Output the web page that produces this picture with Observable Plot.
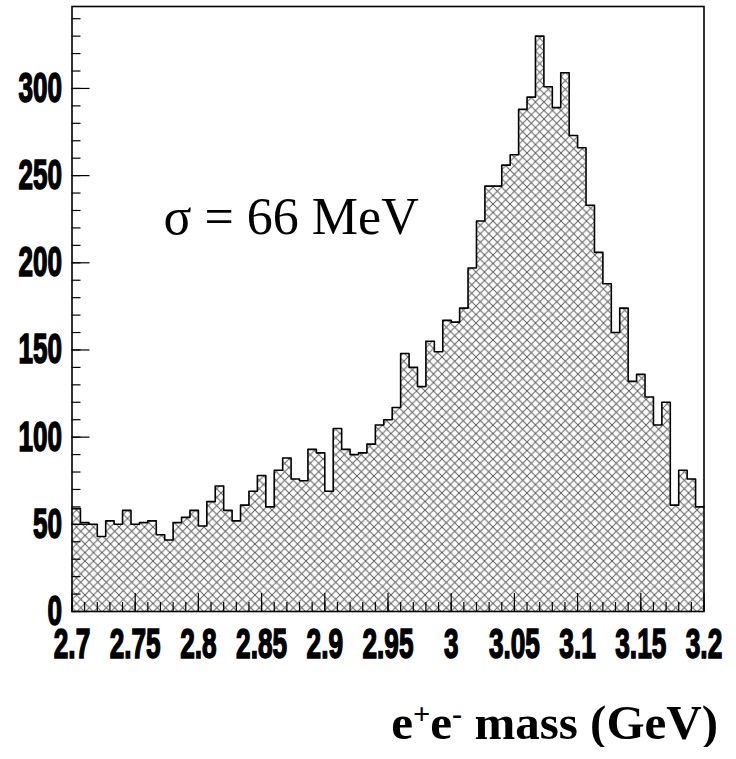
<!DOCTYPE html>
<html>
<head>
<meta charset="utf-8">
<script src="https://cdn.jsdelivr.net/npm/d3@7"></script>
<script src="https://cdn.jsdelivr.net/npm/@observablehq/plot@0.6"></script>
<style>
  body { margin: 0; background: #fff; }
  #title {
    font-family: "Liberation Serif", "Times New Roman", serif;
    font-weight: bold; font-size: 49px; line-height: 48px;
    text-align: right; padding-right: 18px; margin-top: 9px; color: #000;
  }
  #title sup { font-size: 0.62em; line-height: 0; vertical-align: 0.5em; }
</style>
</head>
<body>
<div id="chart"></div>
<div id="title">e<sup>+</sup>e<sup>-</sup> mass (GeV)</div>
<script>
// ---- data ----
const xMin = 2.7;
const xMax = 3.2;
const counts = [
  59, 51, 50, 43, 52, 50, 58, 50, 51, 52,
  44, 41, 51, 54, 58, 49, 63, 72, 58, 52,
  61, 69, 78, 60, 81, 88, 76, 75, 93, 91,
  69, 105, 93, 90, 91, 96, 107, 110, 117, 148,
  140, 129, 155, 149, 167, 166, 174, 197, 224, 244,
  244, 256, 262, 288, 295, 330, 301, 289, 309, 273,
  266, 233, 206, 188, 160, 174, 132, 136, 123, 107,
  120, 61, 81, 76, 60
];
const xMajorTicks = [2.7, 2.75, 2.8, 2.85, 2.9, 2.95, 3.0, 3.05, 3.1, 3.15, 3.2];
const xMinorTicks = d3.range(0, 51).map(i => +(2.7 + i * 0.01).toFixed(2));
const yMajorTicks = [0, 50, 100, 150, 200, 250, 300];
const yMinorTicks = d3.range(0, 35).map(i => i * 10);
const yMax = 347;
const sigmaLabel = ["\u03c3 = 66 MeV"];

// ---- derived table ----
const nBins = counts.length;
const edges = d3.range(nBins + 1).map(i => xMin + i * (xMax - xMin) / nBins);
const steps = counts.map((c, i) => ({x: edges[i], y: c}))
  .concat([{x: xMax, y: counts[nBins - 1]}]);

const tickFont = '"Liberation Sans", Arial, sans-serif';

const hatchDefs = () => {
  const defs = d3.create("svg:defs");
  const p = defs.append("pattern")
    .attr("id", "hatch").attr("patternUnits", "userSpaceOnUse")
    .attr("width", 8.5).attr("height", 8.5);
  p.append("path")
    .attr("d", "M-1,-1L9.5,9.5M9.5,-1L-1,9.5")
    .attr("stroke", "#5e5e5e").attr("stroke-width", 1).attr("fill", "none");
  return defs.node();
};

const chart = Plot.plot({
  width: 736,
  height: 690,
  marginLeft: 71.5,
  marginRight: 32.5,
  marginTop: 6,
  marginBottom: 79,
  style: {background: "white", color: "black", overflow: "visible"},
  x: {domain: [xMin, xMax]},
  y: {domain: [0, yMax]},
  marks: [
    hatchDefs,
    Plot.areaY(steps, {x: "x", y: "y", curve: "step-after", fill: "url(#hatch)"}),
    Plot.lineY(steps, {x: "x", y: "y", curve: "step-after", stroke: "black", strokeWidth: 1.6}),
    // inward ticks (no labels)
    Plot.axisX({ticks: xMinorTicks, tickSize: 9, dy: -9, fill: "none", label: null, strokeWidth: 1.2}),
    Plot.axisX({ticks: xMajorTicks, tickSize: 18, dy: -18, fill: "none", label: null, strokeWidth: 1.2}),
    Plot.axisY({ticks: yMinorTicks, tickSize: 9, dx: 9, fill: "none", label: null, strokeWidth: 1.2}),
    Plot.axisY({ticks: yMajorTicks, tickSize: 18, dx: 18, fill: "none", label: null, strokeWidth: 1.2}),
    // labels
    Plot.axisX({ticks: xMajorTicks, tickSize: 0, tickPadding: 17, label: null,
      tickFormat: d => String(+d.toFixed(2)),
      fontSize: 42, fontWeight: "bold", fontFamily: tickFont}),
    Plot.axisY({ticks: yMajorTicks, tickSize: 0, tickPadding: 10, label: null,
      tickFormat: d => String(d),
      fontSize: 42, fontWeight: "bold", fontFamily: tickFont}),
    Plot.text(sigmaLabel, {text: d => d, frameAnchor: "top-left", dx: 91.5, dy: 211,
      textAnchor: "start", lineAnchor: "middle", fontSize: 52,
      fontFamily: '"Liberation Serif", "Times New Roman", serif'}),
    Plot.frame({stroke: "black", strokeWidth: 1.6})
  ]
});

document.getElementById("chart").appendChild(chart);

// condense tick label glyphs horizontally to a target width per glyph (ROOT-style narrow heavy bold)
const DIGIT_W = 14.5; // target px per digit in the reference
d3.select(chart).selectAll('g[aria-label*="tick label"] text').each(function () {
  const g = document.createElementNS("http://www.w3.org/2000/svg", "g");
  this.parentNode.insertBefore(g, this);
  g.appendChild(this);
  this.setAttribute("stroke", "black");
  this.setAttribute("stroke-width", "1.6");
  const b = g.getBBox();
  const s = this.textContent;
  const nDigits = s.replace(/[^0-9]/g, "").length;
  const nDots = s.length - nDigits;
  const target = nDigits * DIGIT_W + nDots * 7.5;
  const sx = Math.min(1, target / b.width);
  const anchor = getComputedStyle(this).textAnchor;
  const cx = anchor === "end" ? b.x + b.width : anchor === "middle" ? b.x + b.width / 2 : b.x;
  g.setAttribute("transform", `translate(${cx},0) scale(${sx},1) translate(${-cx},0)`);
});
</script>
</body>
</html>
